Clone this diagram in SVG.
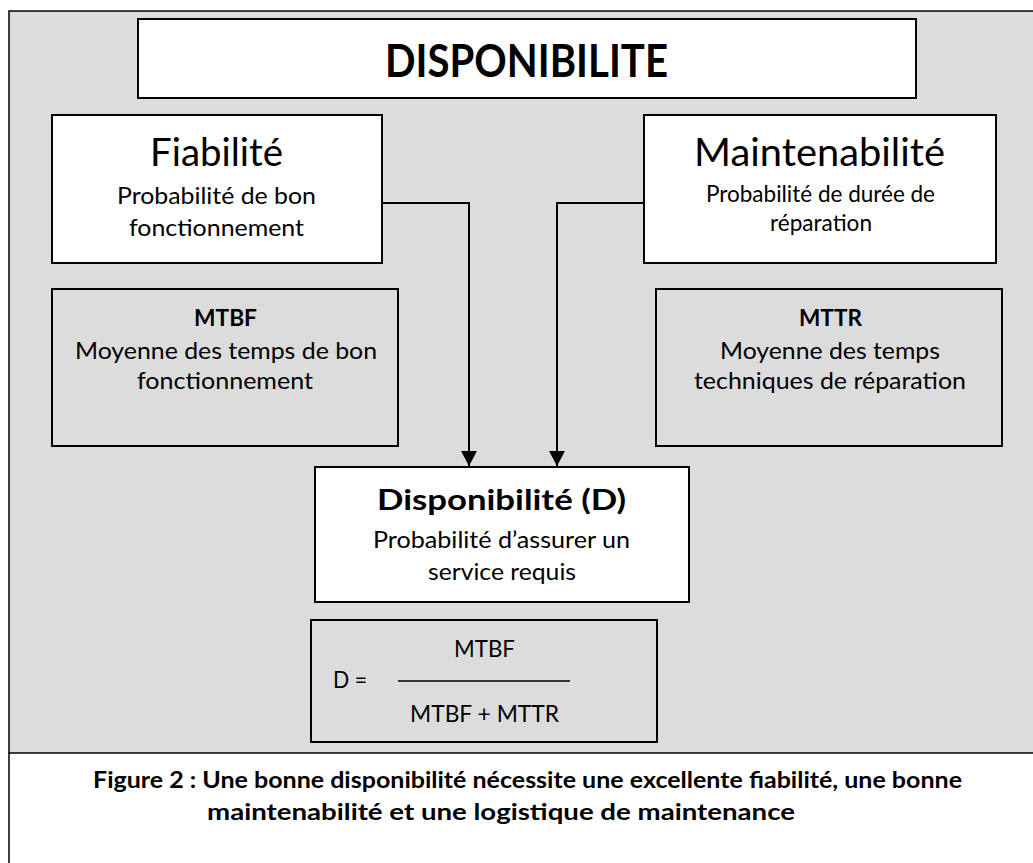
<svg xmlns="http://www.w3.org/2000/svg" width="1033" height="863" viewBox="0 0 1033 863">
  <style>
    text { font-family: Lato, "Open Sans", "Liberation Sans", sans-serif; fill: #000; }
    .b { font-weight: bold; }
    .box { fill: #ffffff; stroke: #000; stroke-width: 2; }
    .gbox { fill: #dcdcdc; stroke: #000; stroke-width: 2; }
    .body { font-size: 23px; }
    .head { font-size: 39px; }
    .conn { fill: none; stroke: #000; stroke-width: 2; }
  </style>
  <defs>
    <marker id="arrow" markerUnits="userSpaceOnUse" markerWidth="16" markerHeight="16" viewBox="0 0 16 16" refX="15" refY="8" orient="auto">
      <path d="M0,0 L15,8 L0,16 Z" fill="#000"/>
    </marker>
  </defs>

  <!-- background frame -->
  <rect x="0" y="0" width="1033" height="863" fill="#ffffff"/>
  <rect x="9" y="11" width="1040" height="742" fill="#dcdcdc" stroke="#000" stroke-width="1.5"/>
  <line x1="9" y1="753" x2="9" y2="870" stroke="#000" stroke-width="1.5"/>

  <g id="title">
    <rect class="box" x="138" y="19" width="778" height="79"/>
    <text class="b" x="385" y="77" font-size="45" textLength="283" lengthAdjust="spacingAndGlyphs">DISPONIBILITE</text>
  </g>

  <g id="fiabilite">
    <rect class="box" x="52" y="115" width="330" height="148"/>
    <text class="head" x="150" y="166" textLength="133" lengthAdjust="spacingAndGlyphs">Fiabilité</text>
    <text class="body" x="117" y="204" textLength="199" lengthAdjust="spacingAndGlyphs">Probabilité de bon</text>
    <text class="body" x="129" y="236" textLength="175" lengthAdjust="spacingAndGlyphs">fonctionnement</text>
  </g>

  <g id="maintenabilite">
    <rect class="box" x="644" y="115" width="352" height="148"/>
    <text class="head" x="694" y="166" textLength="251" lengthAdjust="spacingAndGlyphs">Maintenabilité</text>
    <text class="body" x="706" y="202" textLength="229" lengthAdjust="spacingAndGlyphs">Probabilité de durée de</text>
    <text class="body" x="770" y="231" textLength="102" lengthAdjust="spacingAndGlyphs">réparation</text>
  </g>

  <g id="mtbf">
    <rect class="gbox" x="52" y="289" width="346" height="157"/>
    <text class="body b" x="194" y="326" textLength="63" lengthAdjust="spacingAndGlyphs">MTBF</text>
    <text class="body" x="75" y="359" textLength="302" lengthAdjust="spacingAndGlyphs">Moyenne des temps de bon</text>
    <text class="body" x="137" y="389" textLength="176" lengthAdjust="spacingAndGlyphs">fonctionnement</text>
  </g>

  <g id="mttr">
    <rect class="gbox" x="656" y="289" width="346" height="157"/>
    <text class="body b" x="799" y="326" textLength="63" lengthAdjust="spacingAndGlyphs">MTTR</text>
    <text class="body" x="720" y="359" textLength="220" lengthAdjust="spacingAndGlyphs">Moyenne des temps</text>
    <text class="body" x="694" y="389" textLength="272" lengthAdjust="spacingAndGlyphs">techniques de réparation</text>
  </g>

  <g id="disponibilite">
    <rect class="box" x="315" y="467" width="374" height="135"/>
    <text class="b" x="377" y="510" font-size="28" textLength="249" lengthAdjust="spacingAndGlyphs">Disponibilité (D)</text>
    <text class="body" x="373" y="548" textLength="257" lengthAdjust="spacingAndGlyphs">Probabilité d’assurer un</text>
    <text class="body" x="428" y="580" textLength="148" lengthAdjust="spacingAndGlyphs">service requis</text>
  </g>

  <g id="formule">
    <rect class="gbox" x="311" y="620" width="346" height="122"/>
    <text class="body" x="454" y="657" textLength="61" lengthAdjust="spacingAndGlyphs">MTBF</text>
    <text class="body" x="333" y="688" textLength="34" lengthAdjust="spacingAndGlyphs">D =</text>
    <line x1="398" y1="681" x2="570" y2="681" stroke="#000" stroke-width="1.5"/>
    <text class="body" x="410" y="722" textLength="149" lengthAdjust="spacingAndGlyphs">MTBF + MTTR</text>
  </g>

  <g id="connectors">
    <path class="conn" d="M382,203 H469 V466" marker-end="url(#arrow)"/>
    <path class="conn" d="M644,203 H557 V466" marker-end="url(#arrow)"/>
  </g>

  <g id="caption">
    <text class="b" x="93" y="788" font-size="23" textLength="869" lengthAdjust="spacingAndGlyphs">Figure 2 : Une bonne disponibilité nécessite une excellente fiabilité, une bonne</text>
    <text class="b" x="207" y="820" font-size="23" textLength="588" lengthAdjust="spacingAndGlyphs">maintenabilité et une logistique de maintenance</text>
  </g>
</svg>
